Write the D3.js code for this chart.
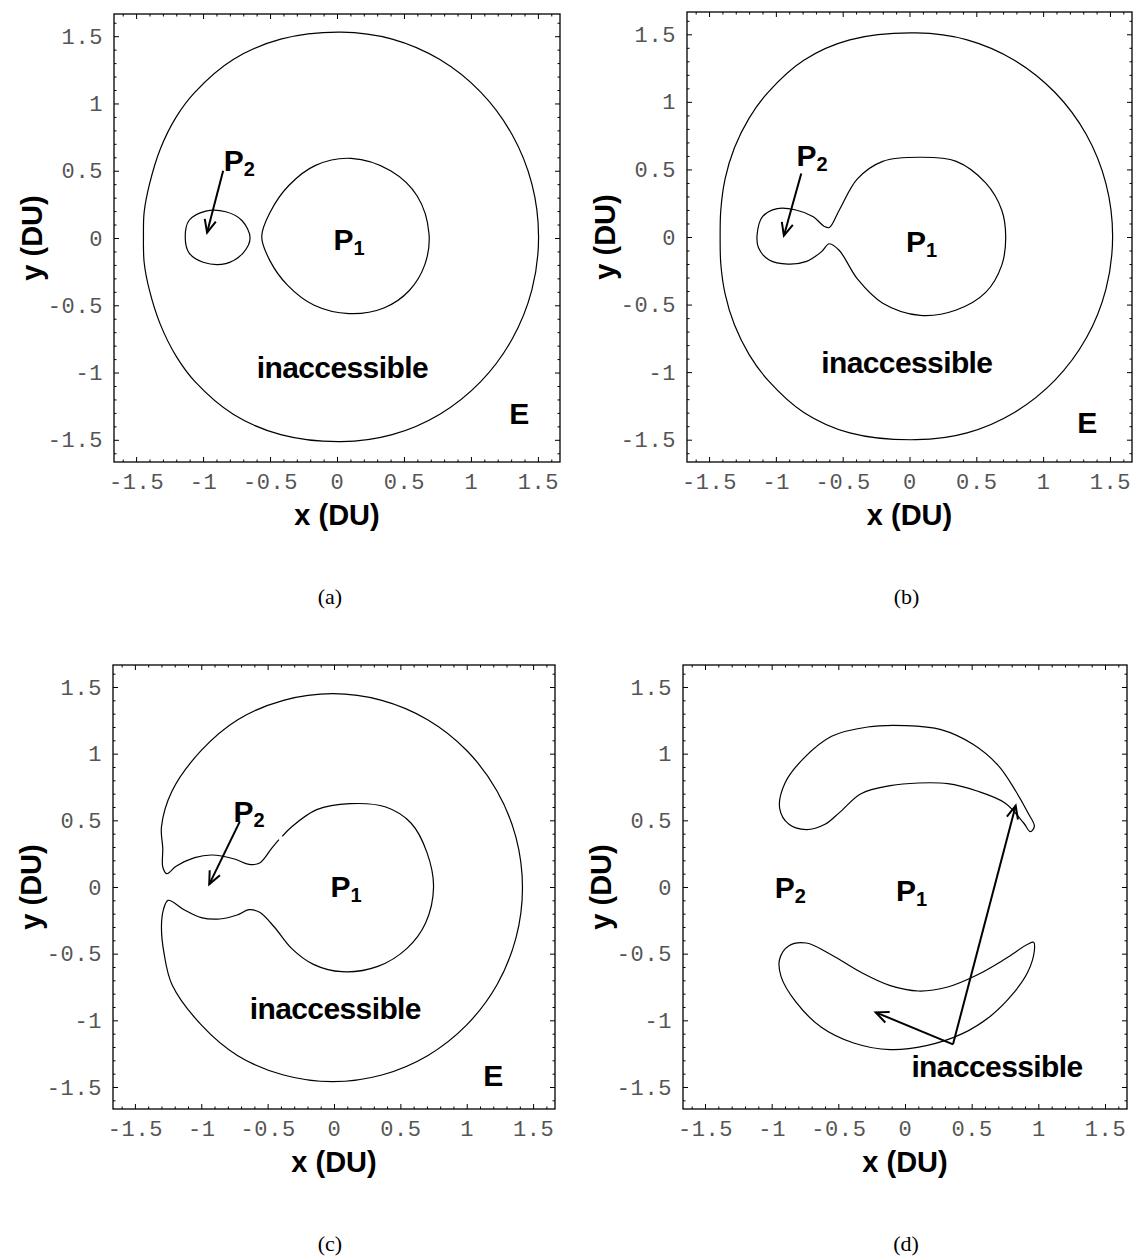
<!DOCTYPE html>
<html>
<head>
<meta charset="utf-8">
<script src="https://cdn.jsdelivr.net/npm/d3@7"></script>
<style>
  body { margin: 0; background: #fff; }
  .lbl { font-family: "Liberation Sans", Arial, sans-serif; font-weight: bold; fill: #000; }
  .cap { font-family: "Liberation Serif", "Times New Roman", serif; fill: #000; }
</style>
</head>
<body>
<svg id="fig" width="1139" height="1258"></svg>
<script>
// Axis ticks shared by all four panels
const majorTicks = [-1.5, -1, -0.5, 0, 0.5, 1, 1.5];
const majorTickLabels = ["-1.5", "-1", "-0.5", "0", "0.5", "1", "1.5"];
const minorTicks = [-1.6, -1.4, -1.3, -1.2, -1.1, -0.9, -0.8, -0.7, -0.6, -0.4, -0.3, -0.2, -0.1,
                    0.1, 0.2, 0.3, 0.4, 0.6, 0.7, 0.8, 0.9, 1.1, 1.2, 1.3, 1.4, 1.6];
const plotRange = [-1.665, 1.665];

// (a) zero-velocity curves: outer boundary, oval about P1, oval about P2
const outerA = [[0.03,1.530],[0.412,1.478],[0.768,1.326],[1.073,1.084],[1.307,0.769],[1.455,0.402],
  [1.505,0.008],[1.455,-0.386],[1.307,-0.753],[1.073,-1.068],[0.768,-1.310],[0.412,-1.462],[0.03,-1.514],
  [-0.42,-1.462],[-0.775,-1.310],[-1.060,-1.068],[-1.20,-0.88],[-1.32,-0.64],[-1.40,-0.39],[-1.44,-0.18],
  [-1.445,0.008],[-1.44,0.19],[-1.40,0.40],[-1.32,0.66],[-1.20,0.90],[-1.060,1.084],[-0.775,1.326],[-0.42,1.478]];
const p1OvalA = [[0.105,0.592],[0.40,0.50],[0.60,0.31],[0.687,0.03],[0.655,-0.20],[0.54,-0.39],[0.35,-0.52],
  [0.09,-0.562],[-0.17,-0.50],[-0.37,-0.35],[-0.50,-0.17],[-0.562,0.01],[-0.50,0.19],[-0.36,0.39],[-0.16,0.54]];
const p2OvalA = [[-1.133,0],[-1.105,0.13],[-0.98,0.20],[-0.83,0.195],[-0.71,0.13],[-0.649,0],
  [-0.70,-0.11],[-0.83,-0.19],[-1.0,-0.18],[-1.105,-0.11]];

// (b) outer boundary and the joined P1-P2 region
const outerB = [[0.05,1.51],[0.431,1.459],[0.785,1.308],[1.089,1.069],[1.323,0.758],[1.470,0.395],
  [1.52,0.005],[1.470,-0.385],[1.323,-0.748],[1.089,-1.059],[0.785,-1.298],[0.431,-1.449],[0.05,-1.50],
  [-0.447,-1.449],[-0.791,-1.298],[-1.060,-1.059],[-1.20,-0.87],[-1.31,-0.65],[-1.38,-0.42],[-1.412,-0.20],
  [-1.417,0.005],[-1.412,0.20],[-1.38,0.43],[-1.31,0.66],[-1.20,0.88],[-1.060,1.069],[-0.791,1.308],[-0.447,1.459]];
const innerB = [[-0.60,0.07],[-0.525,0.20],[-0.39,0.43],[-0.20,0.56],[0.08,0.59],[0.35,0.56],[0.57,0.40],
  [0.69,0.20],[0.72,0],[0.69,-0.21],[0.57,-0.41],[0.35,-0.54],[0.08,-0.58],[-0.20,-0.49],[-0.39,-0.31],
  [-0.525,-0.10],[-0.60,-0.05],[-0.66,-0.11],[-0.77,-0.18],[-0.91,-0.20],[-1.05,-0.17],[-1.13,-0.08],
  [-1.14,0.02],[-1.10,0.15],[-0.99,0.21],[-0.85,0.20],[-0.72,0.15],[-0.64,0.08]];

// (c) single boundary opened through the neck beyond P2; traced as an open
// path because the contour has a tiny break on the upper-left of the P1 lobe
const curveC = [[-0.415,0.355],[-0.47,0.29],[-0.56,0.18],[-0.64,0.17],[-0.75,0.21],[-0.92,0.24],
  [-1.05,0.22],[-1.19,0.155],[-1.26,0.10],[-1.29,0.15],[-1.29,0.29],[-1.30,0.45],[-1.22,0.72],
  [-1.0,1.024],[-0.725,1.255],[-0.38,1.40],[-0.01,1.45],[0.36,1.40],[0.705,1.255],[1.0,1.024],
  [1.228,0.72],[1.371,0.372],[1.42,-0.005],[1.371,-0.382],[1.228,-0.733],[1.0,-1.034],[0.705,-1.265],
  [0.36,-1.41],[-0.01,-1.46],[-0.38,-1.41],[-0.725,-1.265],[-1.0,-1.034],[-1.22,-0.733],[-1.28,-0.50],
  [-1.30,-0.30],[-1.285,-0.17],[-1.25,-0.10],[-1.13,-0.17],[-1.00,-0.23],[-0.86,-0.24],[-0.73,-0.21],
  [-0.64,-0.17],[-0.56,-0.19],[-0.45,-0.30],[-0.32,-0.46],[-0.155,-0.58],[0.06,-0.635],[0.33,-0.595],
  [0.55,-0.46],[0.69,-0.27],[0.75,0],[0.70,0.26],[0.58,0.48],[0.39,0.60],[0.12,0.625],[-0.13,0.58],
  [-0.32,0.45],[-0.39,0.38]];

// (d) two crescent-shaped forbidden regions
const upperD = [[-0.94,0.59],[-0.90,0.78],[-0.76,0.965],[-0.55,1.13],[-0.28,1.20],[0,1.21],[0.27,1.18],
  [0.51,1.07],[0.70,0.91],[0.83,0.72],[0.92,0.56],[0.97,0.455],[0.94,0.415],[0.89,0.48],[0.75,0.63],
  [0.54,0.72],[0.32,0.775],[0.10,0.78],[-0.11,0.76],[-0.33,0.70],[-0.49,0.56],[-0.60,0.47],[-0.74,0.43],
  [-0.87,0.47]];
const lowerD = [[-0.94,-0.54],[-0.87,-0.44],[-0.74,-0.42],[-0.55,-0.51],[-0.33,-0.64],[-0.11,-0.74],
  [0.10,-0.78],[0.32,-0.75],[0.54,-0.66],[0.75,-0.54],[0.92,-0.43],[0.965,-0.415],[0.97,-0.48],
  [0.92,-0.64],[0.81,-0.80],[0.645,-0.965],[0.43,-1.10],[0.16,-1.19],[-0.11,-1.22],[-0.385,-1.17],
  [-0.63,-1.05],[-0.82,-0.86],[-0.93,-0.67]];

// Text annotations (data coordinates of the label centre)
const labelsA = [{t:"P",s:"2",x:-0.73,y:0.58},{t:"P",s:"1",x:0.09,y:-0.01},{t:"inaccessible",x:0.04,y:-0.96},{t:"E",x:1.36,y:-1.30}];
const labelsB = [{t:"P",s:"2",x:-0.73,y:0.61},{t:"P",s:"1",x:0.09,y:-0.03},{t:"inaccessible",x:-0.02,y:-0.925},{t:"E",x:1.33,y:-1.37}];
const labelsC = [{t:"P",s:"2",x:-0.64,y:0.57},{t:"P",s:"1",x:0.09,y:0.01},{t:"inaccessible",x:0.01,y:-0.91},{t:"E",x:1.20,y:-1.41}];
const labelsD = [{t:"P",s:"2",x:-0.86,y:0},{t:"P",s:"1",x:0.05,y:-0.02},{t:"inaccessible",x:0.69,y:-1.345}];

// Arrows: [fromX, fromY, toX, toY]
const arrowsA = [[-0.85,0.50,-0.97,0.04]];
const arrowsB = [[-0.81,0.47,-0.94,0.01]];
const arrowsC = [[-0.71,0.49,-0.94,0.02]];
const arrowsD = [[0.36,-1.18,0.83,0.61],[0.36,-1.18,-0.22,-0.94]];

const panels = [
  {box:[114,14,560,462], curves:[outerA,p1OvalA,p2OvalA], open:[], labels:labelsA, arrows:arrowsA, caption:"(a)", capDx:-7},
  {box:[687,12,1132,462], curves:[outerB,innerB], open:[], labels:labelsB, arrows:arrowsB, caption:"(b)", capDx:-3},
  {box:[113,665,555,1109], curves:[], open:[curveC], labels:labelsC, arrows:arrowsC, caption:"(c)", capDx:-4},
  {box:[683,665,1127,1109], curves:[upperD,lowerD], open:[], labels:labelsD, arrows:arrowsD, caption:"(d)", capDx:1}
];

const svg = d3.select("#fig");

panels.forEach(p => {
  const [x0, y0, x1, y1] = p.box;
  const x = d3.scaleLinear().domain(plotRange).range([x0, x1]);
  const y = d3.scaleLinear().domain(plotRange).range([y1, y0]);
  const g = svg.append("g");
  const fmt = v => majorTickLabels[majorTicks.indexOf(v)];

  const sides = [
    [() => d3.axisBottom(x), `translate(0,${y1})`, true],
    [() => d3.axisTop(x), `translate(0,${y0})`, false],
    [() => d3.axisLeft(y), `translate(${x0},0)`, true],
    [() => d3.axisRight(y), `translate(${x1},0)`, false]
  ];
  // minor ticks on all four sides
  sides.forEach(([mk, tr]) => {
    const a = g.append("g").attr("transform", tr)
      .call(mk().tickValues(minorTicks).tickSizeInner(-2.5).tickSizeOuter(0).tickFormat(""));
    a.select(".domain").remove();
    a.selectAll("line").attr("stroke", "#000").attr("stroke-width", 1);
  });
  // major ticks, labelled at bottom and left
  sides.forEach(([mk, tr, lab]) => {
    const a = g.append("g").attr("transform", tr)
      .call(mk().tickValues(majorTicks).tickSizeInner(-5).tickSizeOuter(0)
        .tickPadding(11).tickFormat(lab ? fmt : ""));
    a.select(".domain").remove();
    a.selectAll("line").attr("stroke", "#000").attr("stroke-width", 1);
    a.selectAll("text").attr("font-size", 22).attr("letter-spacing", 0.6)
      .attr("font-family", "Liberation Mono, monospace").attr("fill", "#555");
  });

  // frame
  g.append("rect").attr("x", x0).attr("y", y0).attr("width", x1 - x0).attr("height", y1 - y0)
    .attr("fill", "none").attr("stroke", "#000").attr("stroke-width", 1.3);

  // zero-velocity curves
  const closed = d3.line().x(d => x(d[0])).y(d => y(d[1])).curve(d3.curveCatmullRomClosed.alpha(0.5));
  const open = d3.line().x(d => x(d[0])).y(d => y(d[1])).curve(d3.curveCatmullRom.alpha(0.5));
  p.curves.forEach(c => {
    g.append("path").attr("d", closed(c)).attr("fill", "none").attr("stroke", "#000").attr("stroke-width", 1.2);
  });
  p.open.forEach(c => {
    g.append("path").attr("d", open(c)).attr("fill", "none").attr("stroke", "#000").attr("stroke-width", 1.2);
  });

  // arrows
  p.arrows.forEach(([ax0, ay0, ax1, ay1]) => {
    const sx = x(ax0), sy = y(ay0), ex = x(ax1), ey = y(ay1);
    g.append("line").attr("x1", sx).attr("y1", sy).attr("x2", ex).attr("y2", ey)
      .attr("stroke", "#000").attr("stroke-width", 2);
    const ang = Math.atan2(ey - sy, ex - sx), L = 14, spread = 0.42;
    const head = [[ex - L * Math.cos(ang - spread), ey - L * Math.sin(ang - spread)], [ex, ey],
                  [ex - L * Math.cos(ang + spread), ey - L * Math.sin(ang + spread)]];
    g.append("path").attr("d", d3.line()(head)).attr("fill", "none").attr("stroke", "#000")
      .attr("stroke-width", 2).attr("stroke-linejoin", "miter");
  });

  // annotations
  p.labels.forEach(l => {
    const t = g.append("text").attr("class", "lbl").attr("x", x(l.x)).attr("y", y(l.y))
      .attr("font-size", 30).attr("text-anchor", "middle").attr("dominant-baseline", "central")
      .attr("letter-spacing", l.t.length > 1 ? -0.6 : 0);
    t.append("tspan").text(l.t);
    if (l.s) t.append("tspan").attr("font-size", 20).attr("dy", 9).text(l.s);
  });

  // axis titles
  const cx = (x0 + x1) / 2, cy = (y0 + y1) / 2;
  g.append("text").attr("class", "lbl").attr("x", cx).attr("y", y1 + 63).attr("font-size", 29)
    .attr("text-anchor", "middle").text("x (DU)");
  g.append("text").attr("class", "lbl").attr("transform", `translate(${x0 - 72},${cy}) rotate(-90)`)
    .attr("font-size", 29).attr("text-anchor", "middle").text("y (DU)");

  // caption
  g.append("text").attr("class", "cap").attr("x", cx + p.capDx).attr("y", y1 + 142).attr("font-size", 22)
    .attr("text-anchor", "middle").text(p.caption);
});
</script>
</body>
</html>
